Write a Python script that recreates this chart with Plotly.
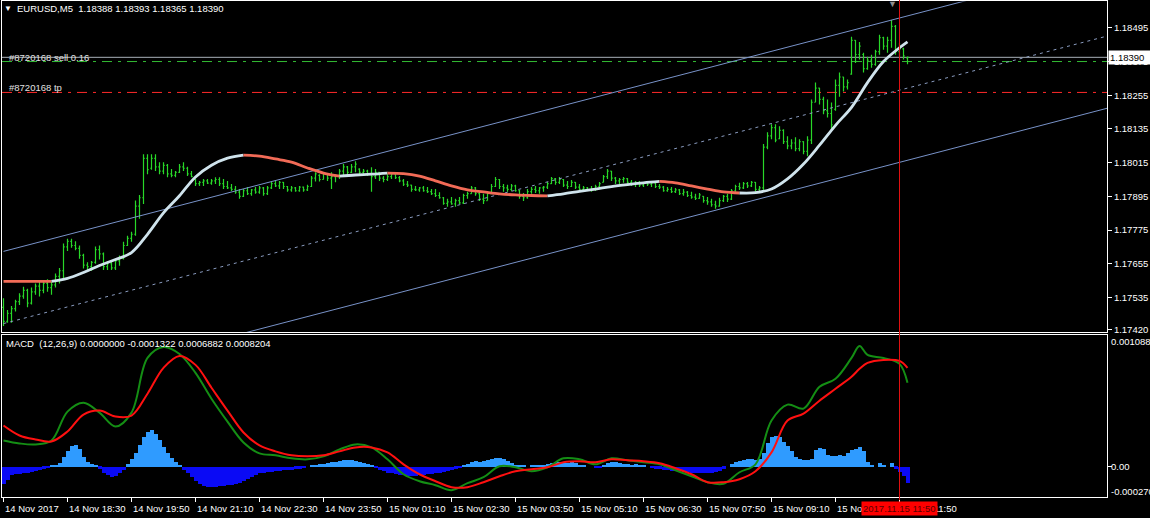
import plotly.graph_objects as go

W, H = 1150, 518

# ---------------- data (prices as points above 1.17000) ----------------
BASE = 1.17
bar_open = [500,450,478,495,520,540,560,515,555,575,560,585,570,580,610,630,715,735,720,710,
            685,650,645,660,705,690,645,655,640,665,675,720,745,760,860,890,1030,995,1030,1000,
            985,1005,975,970,980,1000,995,975,955,940,945,950,942,950,955,940,930,925,920,910,
            895,915,905,918,910,925,905,925,940,932,945,930,918,925,915,928,918,930,960,970,
            955,975,960,965,970,985,1000,980,1000,992,980,985,975,965,980,960,955,965,975,962,
            950,938,935,920,918,925,915,912,905,898,890,870,875,868,880,872,898,905,925,905,
            885,880,905,930,955,930,925,920,932,915,895,890,912,920,915,925,928,940,958,945,
            955,935,930,945,928,920,925,918,922,930,945,965,985,960,950,955,958,945,940,945,
            935,942,938,943,930,928,915,920,912,918,905,910,898,892,888,895,880,875,865,860,
            880,895,885,915,930,925,940,932,945,920,925,1070,1110,1140,1100,1130,1090,1075,1085,1065,
            1090,1055,1095,1230,1280,1240,1200,1190,1205,1290,1320,1285,1330,1450,1400,1400,1350,1380,1365,1410,
            1460,1430,1450,1500,1410,1420,1388]
bar_high = [532,490,505,527,550,573,566,570,585,595,590,600,590,620,640,727,744,744,735,720,
            691,660,665,716,720,695,665,662,673,684,733,755,769,880,900,1045,1045,1045,1045,1016,
            1016,1010,992,985,1010,1016,1000,985,957,950,957,957,957,963,963,957,950,939,932,921,
            921,928,921,928,932,928,932,946,950,950,946,932,932,928,932,930,936,967,981,974,
            981,978,981,974,992,1010,1003,1010,1020,995,992,990,999,992,981,967,974,981,978,967,
            957,950,936,932,928,932,928,921,921,910,893,886,893,886,893,904,911,932,928,911,
            904,914,939,964,957,939,936,939,936,918,907,921,928,932,928,932,946,964,960,964,
            957,950,953,946,939,932,928,932,936,946,971,992,985,964,960,964,960,953,950,950,
            946,950,946,943,939,932,928,928,925,921,921,914,911,904,907,896,893,886,879,890,
            900,904,921,936,943,946,946,950,946,932,1081,1123,1152,1152,1145,1134,1109,1098,1105,1098,
            1091,1109,1240,1300,1282,1250,1240,1229,1311,1336,1321,1311,1463,1452,1445,1406,1392,1399,1417,1470,
            1463,1463,1523,1505,1442,1424,1393]
bar_low = [433,445,445,485,508,530,500,510,545,538,550,555,545,570,585,600,700,712,703,673,
           638,630,630,655,670,633,633,633,633,648,670,718,733,755,815,868,974,990,985,974,
           974,963,963,963,978,985,967,963,932,932,932,939,936,939,932,921,921,914,904,886,
           893,900,897,904,904,897,900,921,928,921,921,911,911,911,911,911,914,928,948,948,
           955,950,921,945,957,967,970,978,981,970,974,967,911,957,950,945,950,957,957,945,
           932,928,911,914,911,911,907,900,893,886,865,858,865,858,868,868,886,904,897,878,
           868,880,904,928,921,911,911,914,911,886,878,886,904,907,904,911,921,939,936,939,
           928,921,928,921,914,911,914,911,914,921,945,957,950,939,939,943,936,932,928,928,
           928,932,928,925,921,911,911,907,907,900,897,893,886,882,886,872,865,858,851,858,
           875,875,882,911,918,921,925,928,911,911,911,1063,1098,1088,1098,1081,1063,1063,1056,1056,
           1045,1038,1081,1230,1222,1187,1176,1134,1200,1250,1268,1275,1328,1370,1382,1336,1346,1353,1360,1399,
           1417,1406,1424,1399,1392,1382,1365]
bar_close = [450,478,495,520,540,560,515,555,575,560,585,570,580,610,630,715,735,720,710,685,
             650,645,660,705,690,645,655,640,665,675,720,745,760,860,890,1030,990,1030,1000,985,
             1005,975,970,980,1000,995,975,965,940,945,950,942,950,955,940,930,925,920,910,895,
             915,905,918,910,925,905,925,940,932,945,930,918,925,915,928,918,930,960,975,955,
             975,960,965,970,985,1000,980,1000,1010,980,985,975,965,980,960,955,965,975,962,950,
             938,935,920,918,925,915,912,905,898,890,870,875,868,880,872,898,905,925,905,885,
             880,905,930,955,930,925,920,932,915,895,890,912,920,915,925,928,940,958,945,955,
             935,930,945,928,920,925,918,922,930,940,965,985,960,950,955,958,945,940,945,935,
             942,938,943,930,928,915,920,912,918,905,910,898,892,888,900,880,875,865,860,880,
             895,885,915,930,925,940,932,945,920,925,1070,1110,1140,1095,1130,1090,1075,1085,1065,1090,
             1055,1095,1230,1280,1240,1200,1190,1150,1290,1320,1285,1300,1450,1400,1430,1350,1380,1365,1410,1460,
             1430,1450,1500,1410,1420,1395,1390]

# moving average (points above 1.17000), sampled on bar indices
ma_idx = list(range(0, 225, 4)) + [226]
ma_val = [592,592,592,592,603,624,649,670,695,760,836,897,964,1006,1031,1042,1038,1028,1017,996,
          978,967,971,974,978,976,967,950,932,918,911,904,900,898,897,904,913,921,930,937,
          943,948,943,932,921,911,907,908,921,957,1010,1077,1148,1212,1300,1375,1424,1445]

# MACD (values in 1e-6)
macd_idx = list(range(0, 213, 4)) + [214, 216, 220, 224, 226]
macd_main = [234,207,198,234,495,576,486,360,486,981,1080,1017,846,612,405,216,117,99,72,63,
             90,153,198,171,63,-72,-135,-171,-216,-153,-99,0,-9,-45,-9,72,63,18,72,54,
             36,18,-36,-90,-144,-158,-54,18,414,558,522,720,792,981,1089,1008,981,927,756]
macd_signal = [369,279,243,225,315,468,504,450,459,657,891,999,918,711,504,306,189,135,99,90,
               99,135,171,171,126,18,-72,-135,-189,-189,-144,-90,-45,-27,-9,36,45,36,63,54,
               45,27,-18,-72,-144,-144,-117,-45,126,414,477,594,702,810,882,936,963,954,891]
macd_hist = [-162,-126,-81,-72,-72,-63,-54,-45,-36,-27,-18,-9,9,18,36,90,144,189,198,162,
             90,45,27,18,-18,-54,-81,-99,-90,-63,-27,27,72,126,198,270,315,333,297,243,
             180,126,81,45,9,-27,-63,-99,-135,-162,-180,-189,-189,-189,-180,-180,-171,-171,-162,-153,
             -135,-117,-99,-81,-63,-54,-45,-45,-36,-36,-27,-27,-27,-18,-18,-9,0,9,18,27,
             27,36,45,45,54,63,63,63,54,45,36,27,9,-9,-27,-36,-54,-63,-72,-81,
             -81,-90,-90,-90,-81,-81,-72,-72,-63,-54,-45,-36,-27,-18,-9,9,27,45,54,45,
             54,63,72,81,81,72,54,36,18,9,9,0,9,9,18,18,27,36,45,45,
             36,36,45,36,18,9,0,0,-9,-9,9,36,45,45,36,27,27,18,27,18,
             9,0,-9,-18,-18,-27,-27,-36,-36,-36,-45,-45,-54,-54,-63,-63,-63,-54,-45,-36,
             -18,0,27,45,54,63,72,72,63,72,126,216,270,279,270,225,189,144,90,72,
             63,63,72,153,171,162,108,99,99,108,99,126,153,162,180,144,45,9,0,36,
             9,0,36,-18,-45,-90,-153]

# channel (price at bar 0 and bar 276 of middle line, half width)
chan_idx = [0, 276]
chan_mid = [1.17442, 1.18466]
chan_half = 0.00257

bid_price = 1.18390
order_price = 1.18375
tp_price = 1.18265

time_idx = [0, 16, 32, 48, 64, 80, 96, 112, 128, 144, 160, 176, 192, 208, 224]
time_lbl = ["14 Nov 2017", "14 Nov 18:30", "14 Nov 19:50", "14 Nov 21:10", "14 Nov 22:30",
            "14 Nov 23:50", "15 Nov 01:10", "15 Nov 02:30", "15 Nov 03:50", "15 Nov 05:10",
            "15 Nov 06:30", "15 Nov 07:50", "15 Nov 09:10", "15 Nov 10:30", "15 Nov 11:50"]
cursor_idx = 224
cursor_lbl = "2017.11.15 11:50"

price_ticks = [1.17420, 1.17535, 1.17655, 1.17775, 1.17895, 1.18015, 1.18135, 1.18255, 1.18375, 1.18495]

n = len(bar_close)
assert len(bar_open) == n == len(bar_high) == len(bar_low) == len(macd_hist) == 227
assert len(ma_val) == len(ma_idx) and len(macd_main) == len(macd_idx) == len(macd_signal)

# ---------------- geometry ----------------
def py(ypx):
    return (H - ypx) / H

FONT = "Liberation Sans, Arial, sans-serif"
FS = 9.5
XR = [-0.375, 275.875]
XDOM = [2 / W, 1107 / W]
MAIN_DOM = [py(334.3), py(1.5)]
MACD_DOM = [py(500), py(336.7)]
PRICE_RANGE = [1.174107, 1.185888]
MACD_RANGE = [-0.000279, 0.0011907]

BAR_GREEN = "#28D828"
MA_UP = "#CFE3EC"
MA_DN = "#F26B57"
CHAN = "#7892C8"

fig = go.Figure()

# channel lines
mid = chan_mid
for off, dash in [(chan_half, "solid"), (0.0, "3px,4px"), (-chan_half, "solid")]:
    fig.add_trace(go.Scatter(x=chan_idx, y=[m + off for m in mid], mode="lines",
                             line=dict(color=CHAN if dash == "solid" else "#8A9CC0", width=1, dash=dash),
                             xaxis="x", yaxis="y", hoverinfo="skip", showlegend=False))

# price bars
fig.add_trace(go.Ohlc(x=list(range(n)),
                      open=[BASE + v / 1e5 for v in bar_open],
                      high=[BASE + v / 1e5 for v in bar_high],
                      low=[BASE + v / 1e5 for v in bar_low],
                      close=[BASE + v / 1e5 for v in bar_close],
                      increasing=dict(line=dict(color=BAR_GREEN, width=1.2)),
                      decreasing=dict(line=dict(color=BAR_GREEN, width=1.2)),
                      tickwidth=0.3, xaxis="x", yaxis="y", hoverinfo="skip", showlegend=False))

# moving average coloured by direction
runs = []
cur = None
for k in range(len(ma_val) - 1):
    up = ma_val[k + 1] > ma_val[k]
    if cur is None or cur[0] != up:
        cur = [up, [k]]
        runs.append(cur)
    cur[1].append(k + 1)
for up, ks in runs:
    fig.add_trace(go.Scatter(x=[ma_idx[k] for k in ks], y=[BASE + ma_val[k] / 1e5 for k in ks],
                             mode="lines", line=dict(color=MA_UP if up else MA_DN, width=2.8, shape="spline"),
                             xaxis="x", yaxis="y", hoverinfo="skip", showlegend=False))

# MACD histogram
fig.add_trace(go.Bar(x=list(range(n)), y=[v * 1e-6 for v in macd_hist], width=1.0,
                     marker=dict(color=["#2F9BFF" if v > 0 else "#0A0AF5" for v in macd_hist], line=dict(width=0)),
                     xaxis="x2", yaxis="y2", hoverinfo="skip", showlegend=False))
fig.add_trace(go.Scatter(x=macd_idx, y=[v * 1e-6 for v in macd_main], mode="lines",
                         line=dict(color="#148E14", width=2, shape="spline"),
                         xaxis="x2", yaxis="y2", hoverinfo="skip", showlegend=False))
fig.add_trace(go.Scatter(x=macd_idx, y=[v * 1e-6 for v in macd_signal], mode="lines",
                         line=dict(color="#FF1010", width=2, shape="spline"),
                         xaxis="x2", yaxis="y2", hoverinfo="skip", showlegend=False))

# horizontal lines
shapes = [
    dict(type="line", xref="x domain", x0=0, x1=1, yref="y", y0=bid_price, y1=bid_price,
         line=dict(color="#A8B0B8", width=1), layer="below"),
    dict(type="line", xref="x domain", x0=0, x1=1, yref="y", y0=order_price, y1=order_price,
         line=dict(color="#33BB33", width=1, dash="10px,6px,3px,6px"), layer="below"),
    dict(type="line", xref="x domain", x0=0, x1=1, yref="y", y0=tp_price, y1=tp_price,
         line=dict(color="#FF2A2A", width=1, dash="10px,6px,3px,6px"), layer="below"),
    dict(type="line", xref="x", x0=cursor_idx, x1=cursor_idx, yref="paper", y0=py(503), y1=1,
         line=dict(color="#E01010", width=1), layer="above"),
]


def ann(text, xpx, ypx, color="white", size=FS, **kw):
    d = dict(text=text, x=xpx / W, y=py(ypx), xref="paper", yref="paper", showarrow=False,
             xanchor="left", yanchor="middle", font=dict(family=FONT, size=size, color=color),
             borderpad=0, borderwidth=0)
    d.update(kw)
    return d


anns = [
    ann("\u25BC", 4, 9, size=8),
    ann("EURUSD,M5\u00a0 1.18388 1.18393 1.18365 1.18390", 17, 9),
    ann("#8720168 sell 0.16", 9, 57.5, color="#E0E0E0"),
    ann("#8720168 tp", 9, 88, color="#E0E0E0"),
    ann("MACD\u00a0 (12,26,9) 0.0000000 -0.0001322 0.0006882 0.0008204", 6, 346),
    ann("0.001088", 1111, 343),
    ann("0.00", 1111, 469),
    ann("-0.000270", 1111, 494),
    ann("\u25BC", 888, 4, color="#8C8C8C", size=9),
]
for i, t in zip(time_idx, time_lbl):
    anns.append(dict(text=t, x=i, y=py(511), xref="x", yref="paper", showarrow=False,
                     xanchor="left", yanchor="middle", borderpad=0,
                     font=dict(family=FONT, size=FS, color="white")))
anns.append(dict(text=cursor_lbl, x=cursor_idx, y=py(511), xref="x", yref="paper", showarrow=False,
                 xanchor="center", yanchor="middle", bgcolor="#FF0000", borderpad=1,
                 font=dict(family=FONT, size=FS, color="#5A0000")))
anns.append(dict(text="1.18390", x=1108 / W, y=bid_price, xref="paper", yref="y", showarrow=False,
                 xanchor="left", yanchor="middle", bgcolor="white", borderpad=1, width=40, align="left",
                 font=dict(family=FONT, size=FS, color="black")))

axis_common = dict(showgrid=False, zeroline=False, showline=True, mirror=True, linecolor="white",
                   linewidth=1, fixedrange=True)

fig.update_layout(
    width=W, height=H, margin=dict(l=0, r=0, t=0, b=0),
    paper_bgcolor="black", plot_bgcolor="black", bargap=0, showlegend=False,
    font=dict(family=FONT, size=FS, color="white"),
    xaxis=dict(domain=XDOM, range=XR, anchor="y", showticklabels=False, ticks="",
               rangeslider=dict(visible=False), **axis_common),
    yaxis=dict(domain=MAIN_DOM, range=PRICE_RANGE, anchor="x", side="right",
               tickvals=price_ticks, ticktext=["%.5f" % v for v in price_ticks],
               ticks="outside", ticklen=4, tickcolor="white",
               tickfont=dict(family=FONT, size=FS, color="white"), **axis_common),
    xaxis2=dict(domain=XDOM, range=XR, anchor="y2", showticklabels=False, ticks="outside",
                tickvals=time_idx, ticklen=4, tickcolor="white", **axis_common),
    yaxis2=dict(domain=MACD_DOM, range=MACD_RANGE, anchor="x2", side="right", tickvals=[0],
                showticklabels=False, ticks="outside", ticklen=4, tickcolor="white", **axis_common),
    shapes=shapes, annotations=anns,
)

fig.write_html("out.html", config=dict(displayModeBar=False),
               post_script="document.body.style.margin='0';document.body.style.padding='0';"
                           "document.body.style.background='black';")
